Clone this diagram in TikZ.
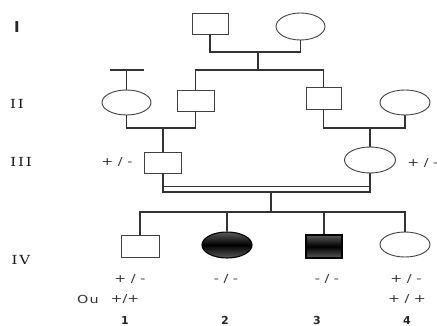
\documentclass[tikz,border=0pt]{standalone}
\usepackage{fontspec}
\setmainfont{DejaVu Sans}
\newfontfamily\genfont{DejaVu Serif}[LetterSpace=12]
\usetikzlibrary{shapes.geometric}

\tikzset{
  line/.style={draw=black!80, line width=1.1pt},
  male/.style={draw=black!75, line width=0.9pt, rectangle, minimum width=37pt, minimum height=22pt, inner sep=0pt},
  female/.style={draw=black!75, line width=0.9pt, ellipse, minimum width=50pt, minimum height=26pt, inner sep=0pt},
  affected/.style={top color=black!65, bottom color=black!65, middle color=black, draw=black, line width=1.1pt},
  gen/.style={font=\genfont\fontsize{12.5}{13}\selectfont, text=black!90, xscale=1.2, transform shape},
  geno/.style={font=\fontsize{11}{12}\selectfont, text=black!80, inner sep=0pt, xscale=1.3, transform shape},
  num/.style={font=\bfseries\fontsize{11}{12}\selectfont, text=black!85, inner sep=0pt}
}

\begin{document}
\begin{tikzpicture}[x=1pt, y=-1pt]
\useasboundingbox (0,0) rectangle (437,326);

% generation labels
\node[font=\bfseries\fontsize{15}{16}\selectfont, text=black!85] (gI) at (17,27) {I};
\node[gen] (gII) at (17,104) {II};
\node[gen] (gIII) at (21,162) {III};
\node[gen] (gIV) at (21,260) {IV};

% generation I
\node[male, minimum width=36pt, minimum height=21pt] (I1) at (210,23.5) {};
\node[female, minimum width=49pt, minimum height=27pt] (I2) at (300.5,26.5) {};

% generation II
\node[female, minimum width=49pt, minimum height=25pt] (II1) at (126.5,102.5) {};
\node[male, minimum width=37pt, minimum height=21pt] (II2) at (195.5,100.5) {};
\node[male, minimum width=35pt, minimum height=22pt] (II3) at (323.5,98) {};
\node[female, minimum width=50pt, minimum height=25pt] (II4) at (405,102.5) {};

% generation III
\node[male, minimum width=37pt, minimum height=21pt] (III1) at (163,162.5) {};
\node[female, minimum width=51pt, minimum height=26pt] (III2) at (370,160) {};

% generation IV
\node[male, minimum width=38pt, minimum height=22pt] (IV1) at (140,246) {};
\node[female, affected, ellipse, minimum width=50pt, minimum height=26pt, inner sep=0pt] (IV2) at (227,245) {};
\node[male, affected, minimum width=36pt, minimum height=23pt] (IV3) at (324,246.5) {};
\node[female, minimum width=50pt, minimum height=25pt] (IV4) at (405,244.5) {};

% couple I and its offspring
\draw[line] (I1.south) -- (I1.south |- 0,52) -- (I2.south |- 0,52) -- (I2.south);
\coordinate (sibI) at (258,70);
\draw[line] (258,52) -- (sibI);
\draw[line] (II2.north) -- (II2.north |- sibI) -- (II3.north |- sibI) -- (II3.north);

% married-in spouse of II2
\draw[line] (II1.north) -- (II1.north |- sibI);
\draw[line] ([xshift=-17pt]II1.north |- sibI) -- ([xshift=17pt]II1.north |- sibI);

% couples of generation II
\draw[line] (II1.south) -- (II1.south |- 0,128) -- (II2.south |- 0,128) -- (II2.south);
\draw[line] (III1.north |- 0,128) -- (III1.north);
\draw[line] (II3.south) -- (II3.south |- 0,128) -- (II4.south |- 0,128) -- (II4.south);
\draw[line] (III2.north |- 0,128) -- (III2.north);

% consanguineous union
\draw[line] (III1.south) -- (III1.south |- 0,192) -- (III2.south |- 0,192) -- (III2.south);
\draw[line, line width=0.9pt] (III1.south |- 0,186) -- (III2.south |- 0,186);
\coordinate (sibIV) at (271,212);
\draw[line] (271,192) -- (sibIV);
\draw[line] (IV1.north) -- (IV1.north |- sibIV) -- (IV4.north |- sibIV) -- (IV4.north);
\draw[line] (IV2.north |- sibIV) -- (IV2.north);
\draw[line] (IV3.north |- sibIV) -- (IV3.north);

% genotypes
\node[geno] (g31) at (117,162) {+ / -};
\node[geno, anchor=west] (g32) at (407,163) {+ / -};
\node[geno] (g41) at (130,279) {+ / -};
\node[geno] (g42) at (226,279) {- / -};
\node[geno] (g43) at (327,279) {- / -};
\node[geno] (g44) at (406,279) {+ / -};
\node[geno] (ou) at (88,299) {O\hspace{1pt}u};
\node[geno] (g41b) at (125,299) {+/+};
\node[geno] (g44b) at (407,299) {+ / +};

% individual numbers
\node[num] (n1) at (125,320) {1};
\node[num] (n2) at (225,320) {2};
\node[num] (n3) at (317,320) {3};
\node[num] (n4) at (407,320) {4};
\end{tikzpicture}
\end{document}
